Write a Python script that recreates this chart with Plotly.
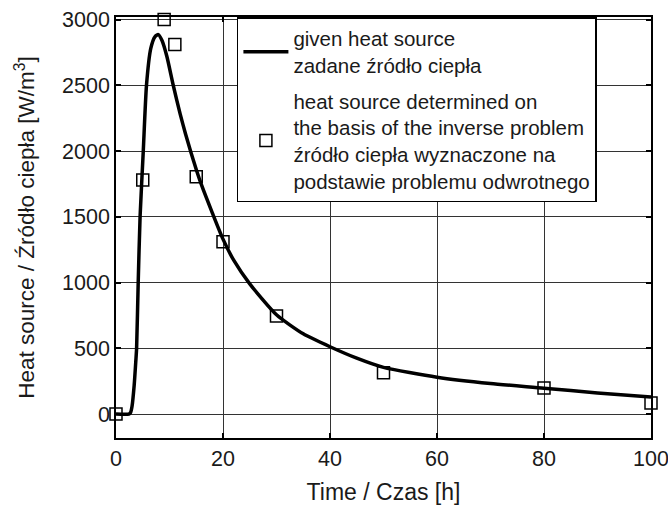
import plotly.graph_objects as go

# Given heat source curve
curve_t = [0, 2.4, 2.7, 3.0, 3.4, 3.7, 3.85, 4.15, 4.5, 5.1, 5.7, 6.5, 7.3, 7.9, 8.6, 9.5, 10.7,
           12, 13, 14, 15, 16, 18, 20, 22, 25, 30, 35, 40, 45, 50, 60, 70, 80, 90, 100]
curve_q = [0, 0, 10, 60, 220, 400, 500, 1000, 1500, 2000, 2500, 2780, 2870, 2885, 2840, 2720, 2500,
           2280, 2130, 1990, 1860, 1740, 1530, 1330, 1170, 990, 755, 610, 512, 425, 355, 280, 232, 197, 160, 129]

# Heat source determined on the basis of the inverse problem
pts_t = [0, 5, 9, 11, 15, 20, 30, 50, 80, 100]
pts_q = [0, 1780, 3000, 2810, 1805, 1310, 745, 315, 198, 84]

x_ticks = [0, 20, 40, 60, 80, 100]
y_ticks = [0, 500, 1000, 1500, 2000, 2500, 3000]

FONT = "Liberation Sans, Arial, sans-serif"

fig = go.Figure()
fig.add_trace(go.Scatter(
    x=curve_t, y=curve_q, mode="lines",
    line=dict(color="black", width=3.5, shape="spline", smoothing=0.6),
    name="given heat source<br>zadane źródło ciepła",
    legendgroup="a",
))
fig.add_trace(go.Scatter(
    x=pts_t, y=pts_q, mode="markers",
    marker=dict(symbol="square-open", size=12, color="black", line=dict(width=1.5, color="black")),
    name="heat source determined on<br>the basis of the inverse problem"
         + "<br>źródło ciepła wyznaczone na<br>podstawie problemu odwrotnego",
    legendgroup="b",
    cliponaxis=False,
))

axis_common = dict(
    showline=True, linecolor="black", linewidth=1.5, mirror="ticks",
    ticks="inside", ticklen=5, tickwidth=1.5, tickcolor="black",
    showgrid=True, gridcolor="#333333", gridwidth=1.2,
    zeroline=False, automargin=False, ticklabeloverflow="allow",
    tickfont=dict(family=FONT, size=21.5, color="#1a1a1a"),
)

fig.update_xaxes(range=[0, 100], tickvals=x_ticks,
                 title=dict(text="Time / Czas [h]", font=dict(family=FONT, size=23, color="#1a1a1a"), standoff=18),
                 **axis_common)
fig.update_yaxes(range=[-182, 3019], tickvals=y_ticks,
                 title=dict(text="Heat source / Źródło ciepła [W/m<sup>3</sup>]", font=dict(family=FONT, size=22.5, color="#1a1a1a"), standoff=21),
                 **axis_common)

fig.update_layout(
    width=668, height=505,
    margin=dict(l=116, r=17, t=17, b=67),
    paper_bgcolor="white", plot_bgcolor="white",
    showlegend=True,
    legend=dict(x=0.226, y=1, xanchor="left", yanchor="top",
                bgcolor="white", bordercolor="black", borderwidth=1.5,
                font=dict(family=FONT, size=20.5, color="#1a1a1a"),
                itemwidth=45, tracegroupgap=6, traceorder="grouped"),
)

fig.write_html("out.html", config={"displayModeBar": False},
               post_script="document.body.style.margin='0px';")
